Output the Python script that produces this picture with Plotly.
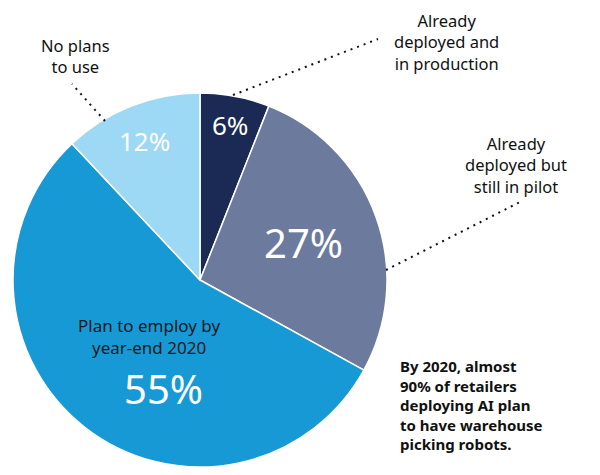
import math
import plotly.graph_objects as go

W, H = 600, 475
OFF = 8  # page body margin in the browser

labels = ["Already deployed and in production", "Already deployed but still in pilot",
          "Plan to employ by year-end 2020", "No plans to use"]
values = [6, 27, 55, 12]
pct_text = ["6%", "27%", "55%", "12%"]
colors = ["#1b2a55", "#6b7a9d", "#1799d6", "#9dd8f5"]
pct_sizes = [26, 40, 40, 26]
label_radius = [0.845, 0.59, None, 0.80]

callout_texts = ["Already<br>deployed and<br>in production",
                 "Already<br>deployed but<br>still in pilot",
                 None,
                 "No plans<br>to use"]
note_text = ("<b>By 2020, almost<br>90% of retailers<br>deploying AI plan<br>"
             "to have warehouse<br>picking robots.</b>")

FONT = "Noto Sans"

# pie geometry (pixels in the photographed page)
cx, cy, R = 200, 280, 187


def px(x):
    return (x - OFF) / W


def py(y):
    return 1 - (y - OFF) / H


fig = go.Figure(go.Pie(
    labels=labels, values=values, sort=False, direction="clockwise", rotation=0,
    marker=dict(colors=colors, line=dict(color="white", width=1.5)),
    textinfo="none", hoverinfo="label+percent", showlegend=False,
    domain=dict(x=[px(cx - R), px(cx + R)], y=[py(cy + R), py(cy - R)]),
))


def ann(x, y, text, size, color, xanchor="center", align="center"):
    return dict(x=px(x), y=py(y), xref="paper", yref="paper", xanchor=xanchor,
                yanchor="middle", text=text, showarrow=False, align=align,
                font=dict(family=FONT, size=size, color=color))


annotations = []
total = sum(values)
start = 0.0
for i, v in enumerate(values):
    mid = (start + v / 2) / total * 2 * math.pi
    start += v
    if label_radius[i] is None:
        continue
    r = label_radius[i] * R
    x = cx + r * math.sin(mid)
    y = cy - r * math.cos(mid)
    annotations.append(ann(x, y, pct_text[i], pct_sizes[i], "white"))

# 55% slice labels
annotations.append(ann(149, 336, "Plan to employ by<br>year-end 2020", 17, "#1a1a1a"))
annotations.append(ann(163, 388, pct_text[2], pct_sizes[2], "white"))

# callouts
callout_pos = [(446, 42), (516, 165), None, (75, 56)]
for i, t in enumerate(callout_texts):
    if t is None:
        continue
    x, y = callout_pos[i]
    annotations.append(ann(x, y, t, 16.5, "#111111"))

annotations.append(ann(398, 405, note_text, 15, "#111111", xanchor="left", align="left"))

leaders = [((233, 95), (378, 39)), ((386, 270), (520, 202)), ((105, 121), (72, 84))]
shapes = []
for (x0, y0), (x1, y1) in leaders:
    shapes.append(dict(type="line", xref="paper", yref="paper",
                       x0=px(x0), y0=py(y0), x1=px(x1), y1=py(y1),
                       line=dict(color="#111111", width=2, dash="2px,5px")))

fig.update_layout(
    width=W, height=H, margin=dict(l=0, r=0, t=0, b=0),
    paper_bgcolor="white", plot_bgcolor="white",
    annotations=annotations, shapes=shapes,
)

fig.write_html("out.html")
